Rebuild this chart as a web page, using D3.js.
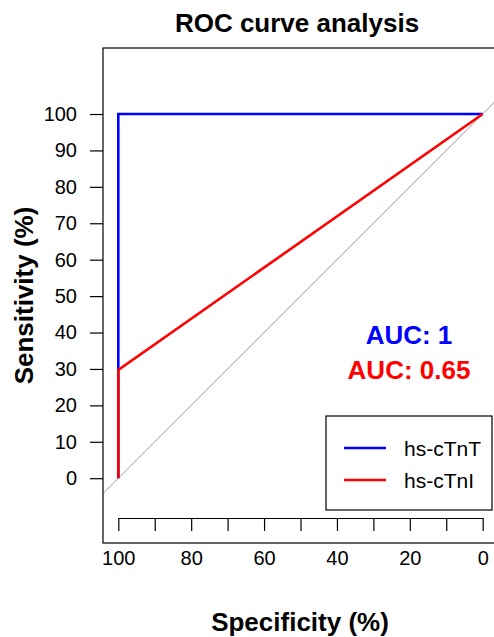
<!DOCTYPE html>
<html>
<head>
<meta charset="utf-8">
<script src="https://cdn.jsdelivr.net/npm/d3@7"></script>
<style>
  body { margin: 0; background: #fff; }
  svg { display: block; font-family: "Liberation Sans", Arial, sans-serif; }
</style>
</head>
<body>
<script>
const width = 494
const height = 637

// ROC curve points: specificity (%) and sensitivity (%)
const tntSpec = [100, 100, 0]
const tntSens = [0, 100, 100]
const tniSpec = [100, 100, 0]
const tniSens = [0, 29.7, 100]

const seriesNames = ['hs-cTnT', 'hs-cTnI']
const seriesColors = ['#0000ff', '#ff0000']
const aucLabels = ['AUC: 1', 'AUC: 0.65']

const xTicks = d3.range(0, 101, 10)
const yTicks = d3.range(0, 101, 10)

const box = { left: 103, right: 497, top: 48, bottom: 543 }

const x = d3.scaleLinear().domain([100, 0]).range([118.3, 482.7])
const y = d3.scaleLinear().domain([0, 100]).range([478.2, 114])

const svg = d3.select('body').append('svg')
    .attr('width', width)
    .attr('height', height)

svg.append('defs').append('clipPath').attr('id', 'plotclip')
    .append('rect')
    .attr('x', box.left).attr('y', box.top)
    .attr('width', box.right - box.left).attr('height', box.bottom - box.top)

// title
svg.append('text')
    .attr('x', (box.left + box.right) / 2 - 3)
    .attr('y', 32)
    .attr('text-anchor', 'middle')
    .attr('font-size', 26)
    .attr('font-weight', 'bold')
    .text('ROC curve analysis')

// diagonal reference line (spec + sens = 100), clipped to the box
svg.append('line')
    .attr('clip-path', 'url(#plotclip)')
    .attr('x1', x(120)).attr('y1', y(-20))
    .attr('x2', x(-20)).attr('y2', y(120))
    .attr('stroke', '#bebebe')
    .attr('stroke-width', 1.2)

// curves
const line = d3.line().x(d => x(d[0])).y(d => y(d[1]))
const curves = [
    d3.zip(tntSpec, tntSens),
    d3.zip(tniSpec, tniSens)
]
curves.forEach((pts, i) => {
    svg.append('path')
        .attr('d', line(pts))
        .attr('fill', 'none')
        .attr('stroke', seriesColors[i])
        .attr('stroke-width', 2.6)
})

// box
svg.append('rect')
    .attr('x', box.left).attr('y', box.top)
    .attr('width', box.right - box.left).attr('height', box.bottom - box.top)
    .attr('fill', 'none')
    .attr('stroke', '#000')
    .attr('stroke-width', 1.2)

// x axis
const xAxis = svg.append('g')
    .attr('transform', 'translate(0,518)')
    .call(d3.axisBottom(x)
        .tickValues(xTicks)
        .tickFormat(d => d % 20 === 0 ? d : '')
        .tickSize(13)
        .tickSizeOuter(0)
        .tickPadding(20))
xAxis.selectAll('text').attr('font-size', 20).attr('fill', '#000')
    .attr('font-family', '"Liberation Sans", Arial, sans-serif')
xAxis.selectAll('line, path').attr('stroke', '#000').attr('stroke-width', 1.2)

// y axis
const yAxis = svg.append('g')
    .attr('transform', `translate(${box.left},0)`)
    .call(d3.axisLeft(y)
        .tickValues(yTicks)
        .tickSize(13)
        .tickSizeOuter(0)
        .tickPadding(13))
yAxis.select('.domain').remove()
yAxis.selectAll('text').attr('font-size', 20).attr('fill', '#000')
    .attr('font-family', '"Liberation Sans", Arial, sans-serif')
yAxis.selectAll('line').attr('stroke', '#000').attr('stroke-width', 1.2)

// axis titles
svg.append('text')
    .attr('x', 300)
    .attr('y', 631)
    .attr('text-anchor', 'middle')
    .attr('font-size', 26)
    .attr('font-weight', 'bold')
    .text('Specificity (%)')

svg.append('text')
    .attr('transform', `translate(33,${(box.top + box.bottom) / 2}) rotate(-90)`)
    .attr('text-anchor', 'middle')
    .attr('font-size', 26)
    .attr('font-weight', 'bold')
    .text('Sensitivity (%)')

// AUC labels
aucLabels.forEach((t, i) => {
    svg.append('text')
        .attr('x', 409)
        .attr('y', 344 + i * 35)
        .attr('text-anchor', 'middle')
        .attr('font-size', 26)
        .attr('font-weight', 'bold')
        .attr('fill', seriesColors[i])
        .text(t)
})

// legend
const legend = svg.append('g')
legend.append('rect')
    .attr('x', 326).attr('y', 416)
    .attr('width', 166).attr('height', 94)
    .attr('fill', '#fff')
    .attr('stroke', '#000')
    .attr('stroke-width', 1.2)
seriesNames.forEach((name, i) => {
    const ly = 448 + i * 32
    legend.append('line')
        .attr('x1', 344).attr('x2', 386)
        .attr('y1', ly).attr('y2', ly)
        .attr('stroke', seriesColors[i])
        .attr('stroke-width', 2.6)
    legend.append('text')
        .attr('x', 404)
        .attr('y', ly + 7.5)
        .attr('font-size', 21)
        .text(name)
})
</script>
</body>
</html>
